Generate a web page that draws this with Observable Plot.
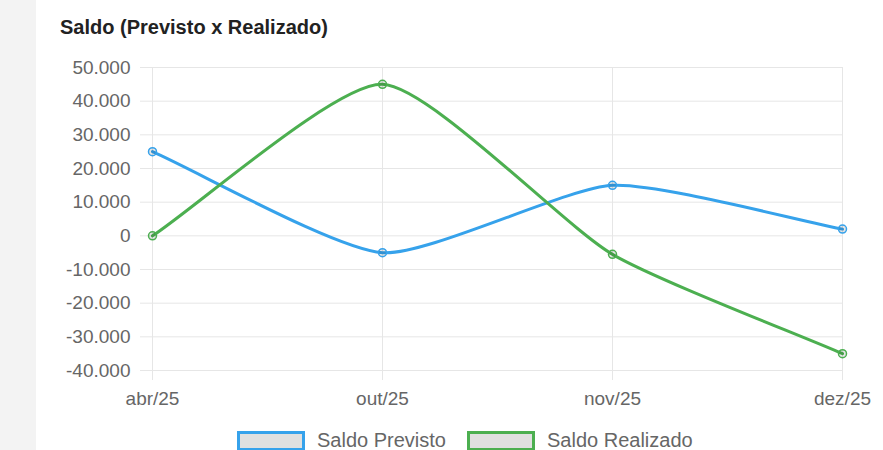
<!DOCTYPE html>
<html>
<head>
<meta charset="utf-8">
<script src="https://cdn.jsdelivr.net/npm/d3@7"></script>
<script src="https://cdn.jsdelivr.net/npm/@observablehq/plot@0.6"></script>
<style>
  html, body { margin: 0; padding: 0; background: #fff; }
  #wrap { position: relative; width: 883px; height: 450px; overflow: hidden; font-family: "Liberation Sans", Arial, sans-serif; }
  #strip { position: absolute; left: 0; top: 0; width: 36px; height: 450px; background: #f3f3f3; }
  #title { position: absolute; left: 60px; top: 16px; font-size: 20px; font-weight: bold; color: #222; white-space: nowrap; }
  #chart { position: absolute; left: 0; top: 0; }
  .leg { position: absolute; top: 429px; display: flex; align-items: center; white-space: nowrap; font-size: 20px; color: #666; }
  .leg .box { width: 62px; height: 14px; background: #e0e0e0; border: 3px solid; margin-right: 12px; }
</style>
</head>
<body>
<div id="wrap">
  <div id="strip"></div>
  <div id="chart"></div>
  <div id="title">Saldo (Previsto x Realizado)</div>
  <div id="legend"></div>
</div>
<script>
const months = ["abr/25", "out/25", "nov/25", "dez/25"];
const seriesNames = ["Saldo Previsto", "Saldo Realizado"];
const seriesColors = ["#36a2eb", "#4caf50"];
const previsto = [25000, -5000, 15000, 2000];
const realizado = [0, 45000, -5500, -35000];
const yTicks = [50000, 40000, 30000, 20000, 10000, 0, -10000, -20000, -30000, -40000];

const rows = [];
months.forEach((m, i) => {
  rows.push({month: m, value: previsto[i], serie: seriesNames[0]});
  rows.push({month: m, value: realizado[i], serie: seriesNames[1]});
});

const fmt = d => d3.format(",")(d).replace(/,/g, ".").replace("\u2212", "-");

// Cardinal-like spline with a small tension (as used by the original chart library)
function tensionCurve(context) {
  let pts;
  const t = 0.2;
  return {
    areaStart() {}, areaEnd() {},
    lineStart() { pts = []; },
    point(x, y) { pts.push([+x, +y]); },
    lineEnd() {
      const n = pts.length;
      if (!n) return;
      const cps = pts.map((p, i) => {
        const prev = pts[i - 1] || p, next = pts[i + 1] || p;
        const d01 = Math.hypot(p[0] - prev[0], p[1] - prev[1]);
        const d12 = Math.hypot(next[0] - p[0], next[1] - p[1]);
        let s01 = d01 / (d01 + d12), s12 = d12 / (d01 + d12);
        if (isNaN(s01)) s01 = 0;
        if (isNaN(s12)) s12 = 0;
        const fa = t * s01, fb = t * s12;
        return {
          prev: [p[0] - fa * (next[0] - prev[0]), p[1] - fa * (next[1] - prev[1])],
          next: [p[0] + fb * (next[0] - prev[0]), p[1] + fb * (next[1] - prev[1])]
        };
      });
      context.moveTo(pts[0][0], pts[0][1]);
      for (let i = 1; i < n; i++) {
        context.bezierCurveTo(cps[i - 1].next[0], cps[i - 1].next[1], cps[i].prev[0], cps[i].prev[1], pts[i][0], pts[i][1]);
      }
    }
  };
}

const plot = Plot.plot({
  width: 883,
  height: 410,
  marginTop: 67,
  marginBottom: 40,
  marginLeft: 151,
  marginRight: 40,
  style: { fontFamily: "'Liberation Sans', Arial, sans-serif", background: "transparent", overflow: "visible" },
  x: { type: "point", domain: months, padding: 0, label: null },
  y: { domain: [-40000, 50000], label: null },
  color: { domain: seriesNames, range: seriesColors },
  marks: [
    Plot.ruleY(yTicks, { stroke: "#e6e6e6", strokeWidth: 1, insetLeft: -11 }),
    Plot.ruleX(months, { stroke: "#e6e6e6", strokeWidth: 1, insetBottom: -10 }),
    Plot.axisY({ ticks: yTicks, tickFormat: fmt, tickSize: 0, tickPadding: 21, fontSize: 19, fill: "#666", label: null }),
    Plot.axisX({ tickSize: 0, tickPadding: 21, fontSize: 19, fill: "#666", label: null }),
    Plot.line(rows, { x: "month", y: "value", z: "serie", stroke: "serie", strokeWidth: 3, curve: tensionCurve }),
    Plot.dot(rows, { x: "month", y: "value", stroke: "serie", fill: "rgba(0,0,0,0.1)", r: 4, strokeWidth: 1.5 })
  ]
});
document.getElementById("chart").appendChild(plot);

const legend = document.getElementById("legend");
const legLeft = [237, 467];
seriesNames.forEach((name, i) => {
  const item = document.createElement("div");
  item.className = "leg";
  item.style.left = legLeft[i] + "px";
  const box = document.createElement("div");
  box.className = "box";
  box.style.borderColor = seriesColors[i];
  const label = document.createElement("span");
  label.textContent = name;
  item.appendChild(box);
  item.appendChild(label);
  legend.appendChild(item);
});
</script>
</body>
</html>
